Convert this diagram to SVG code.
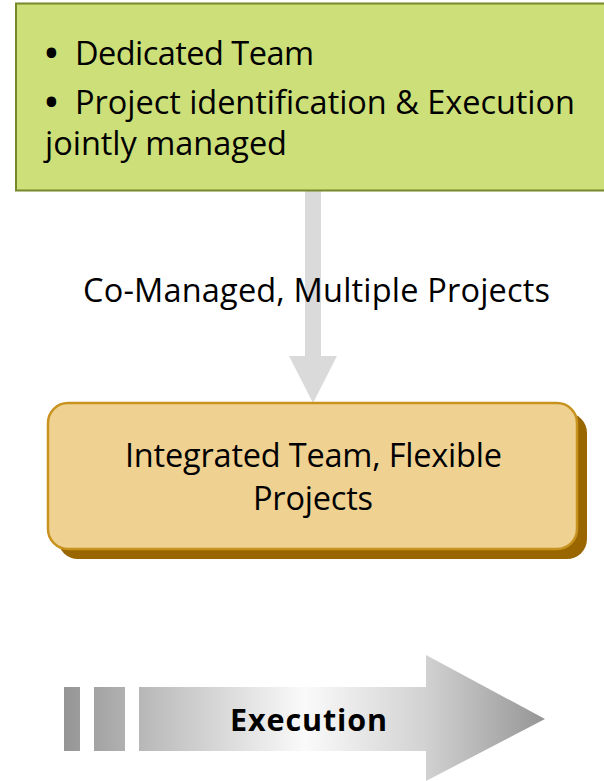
<svg xmlns="http://www.w3.org/2000/svg" width="604" height="781" viewBox="0 0 604 781">
  <defs>
    <style>
      .t { font-family: "Open Sans", Lato, "Liberation Sans", sans-serif; fill: #000; }
      .big { font-size: 32.5px; }
      .bul { font-size: 34px; font-weight: bold; }
      .bold { font-size: 30.5px; font-weight: bold; }
    </style>
    <linearGradient id="execGrad" gradientUnits="userSpaceOnUse" x1="64" y1="0" x2="545" y2="0">
      <stop offset="0" stop-color="#959595"/>
      <stop offset="0.16" stop-color="#b8b8b8"/>
      <stop offset="0.5" stop-color="#fafafa"/>
      <stop offset="0.75" stop-color="#d2d2d2"/>
      <stop offset="1" stop-color="#959595"/>
    </linearGradient>
  </defs>
  <rect width="604" height="781" fill="#ffffff"/>

  <g id="connectors">
    <polygon points="305,190 321,190 321,356 337,356 313,403 289,356 305,356" fill="#dadada"/>
  </g>

  <g id="node-dedicated">
    <rect x="16" y="3.5" width="600" height="187" fill="#cddf78" stroke="#76882a" stroke-width="2"/>
    <text class="t bul" x="45" y="65">•</text>
    <text class="t big" x="75" y="65" textLength="239">Dedicated Team</text>
    <text class="t bul" x="45" y="114">•</text>
    <text class="t big" x="75" y="114" textLength="500">Project identification &amp; Execution</text>
    <text class="t big" x="45" y="155" textLength="242">jointly managed</text>
  </g>

  <g id="label-comanaged">
    <text class="t big" x="83" y="302" textLength="467">Co-Managed, Multiple Projects</text>
  </g>

  <g id="node-integrated">
    <rect x="58" y="413" width="529" height="146" rx="20" ry="20" fill="#996600"/>
    <rect x="48" y="403" width="529" height="146" rx="20" ry="20" fill="#efd292" stroke="#c8921e" stroke-width="2.5"/>
    <text class="t big" x="125" y="467" textLength="377">Integrated Team, Flexible</text>
    <text class="t big" x="253" y="510" textLength="120">Projects</text>
  </g>

  <g id="node-execution">
    <rect x="64" y="687" width="16" height="64" fill="url(#execGrad)"/>
    <rect x="94" y="687" width="31" height="64" fill="url(#execGrad)"/>
    <polygon points="139,687 426,687 426,655 545,719 426,781 426,751 139,751" fill="url(#execGrad)"/>
    <text class="t bold" x="230" y="731" textLength="157">Execution</text>
  </g>
</svg>
